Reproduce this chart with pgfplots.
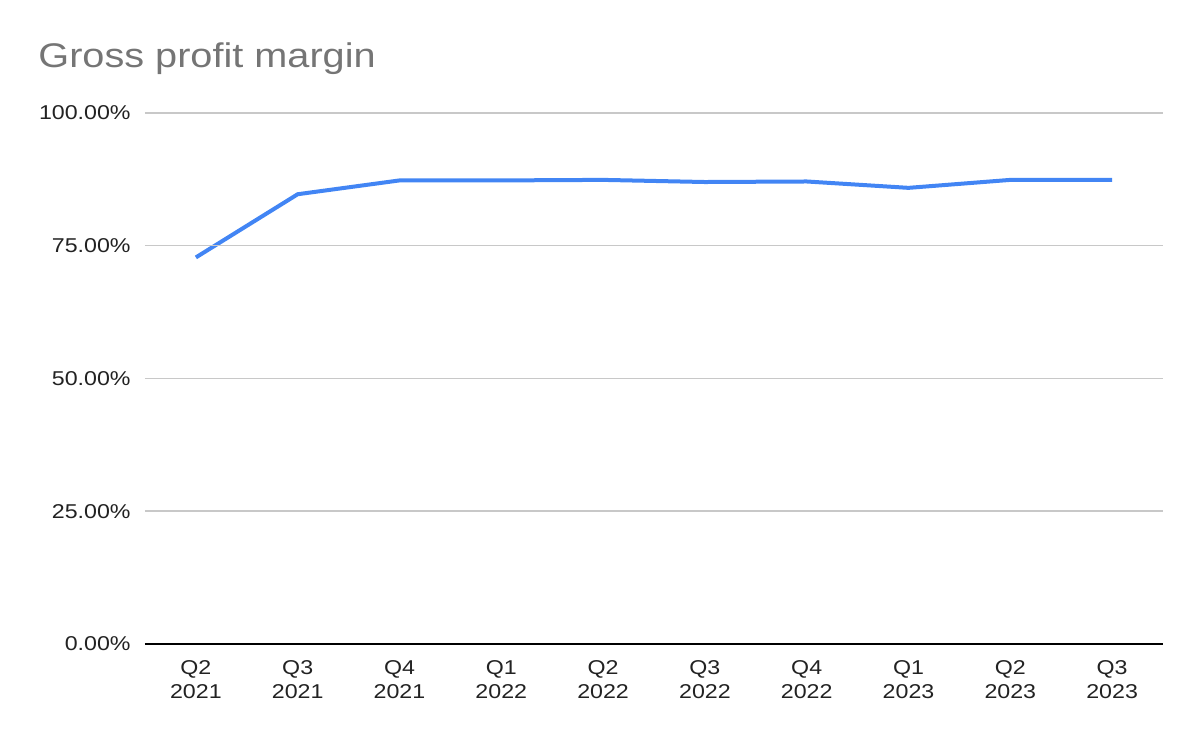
\documentclass[border=0pt]{standalone}
\usepackage{pgfplots}
\pgfplotsset{compat=1.18}
\usepackage{fontspec}
\setmainfont{Liberation Sans}[FakeStretch=1.16]
\definecolor{lineblue}{HTML}{4285F4}
\definecolor{gridgray}{HTML}{C8C8C8}
\definecolor{titlegray}{HTML}{757575}
\definecolor{labelgray}{HTML}{222222}
\begin{document}
\begin{tikzpicture}
\begin{axis}[
    at={(72.5pt,49pt)}, anchor=south west,
    scale only axis,
    width=509pt, height=265.5pt,
    xmin=-0.5, xmax=9.5,
    ymin=0, ymax=100,
    axis x line*=bottom,
    axis y line*=left,
    y axis line style={draw=none},
    x axis line style={black, line width=0.8pt, -},
    axis on top,
    xtick={0,...,9},
    xticklabels={Q2\\2021,Q3\\2021,Q4\\2021,Q1\\2022,Q2\\2022,Q3\\2022,Q4\\2022,Q1\\2023,Q2\\2023,Q3\\2023},
    ytick={0,25,50,75,100},
    yticklabels={0.00\%,25.00\%,50.00\%,75.00\%,100.00\%},
    major tick length=0pt,
    ymajorgrids,
    major grid style={gridgray, line width=0.75pt},
    xticklabel style={font=\fontsize{10}{12}\selectfont, text=labelgray, align=center, anchor=north, inner sep=0pt, yshift=-8pt},
    yticklabel style={font=\fontsize{10}{12}\selectfont, text=labelgray, anchor=east, inner sep=0pt, xshift=-7pt},
    clip=false,
]
\addplot[lineblue, line width=2pt, line join=round] coordinates {
    (0,72.8) (1,84.7) (2,87.3) (3,87.3) (4,87.4)
    (5,87.0) (6,87.1) (7,85.9) (8,87.4) (9,87.4)
};
\end{axis}
\node[anchor=base west, inner sep=0pt, text=titlegray, font=\fontsize{17.1}{20}\selectfont] at (19pt,337pt) {Gross profit margin};
\pgfresetboundingbox
\path (0,0) rectangle (600pt,371pt);
\end{tikzpicture}
\end{document}
